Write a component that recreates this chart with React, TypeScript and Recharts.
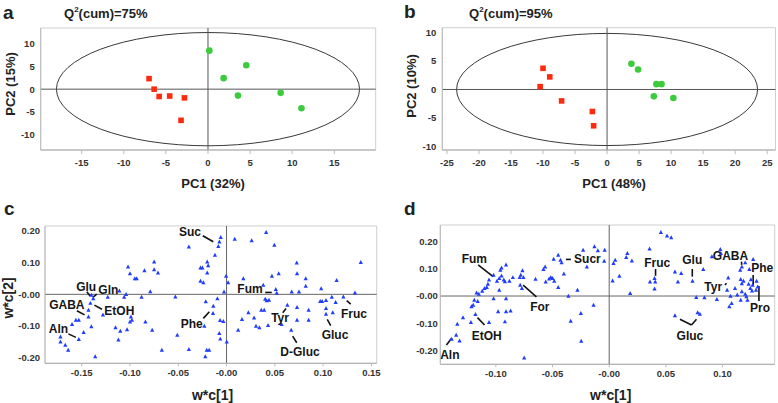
import React from 'react';
import { ScatterChart, Scatter, XAxis, YAxis, ReferenceLine, ReferenceArea } from 'recharts';

const FONT = '"Liberation Sans", Arial, sans-serif';

// ---------- Panel a (scores) ----------
const aRed = [
  { x: -7.0, y: 2.3 }, { x: -6.4, y: 0.0 }, { x: -5.8, y: -1.6 },
  { x: -4.55, y: -1.5 }, { x: -2.8, y: -1.9 }, { x: -3.2, y: -6.8 },
];
const aGreen = [
  { x: 0.16, y: 8.4 }, { x: 1.86, y: 2.4 }, { x: 4.55, y: 5.2 },
  { x: 3.56, y: -1.4 }, { x: 8.63, y: -0.8 }, { x: 11.1, y: -4.15 },
];
const aEllipse = { rx: 18.0, ry: 12.35 };
const aXTicks = [-15, -10, -5, 0, 5, 10, 15];
const aYTicks = [-10, -5, 0, 5, 10];

// ---------- Panel b (scores) ----------
const bRed = [
  { x: -10.0, y: 3.7 }, { x: -8.95, y: 2.2 }, { x: -10.45, y: 0.5 },
  { x: -7.1, y: -2.0 }, { x: -2.3, y: -3.85 }, { x: -2.1, y: -6.35 },
];
const bGreen = [
  { x: 3.8, y: 4.5 }, { x: 4.84, y: 3.5 }, { x: 7.7, y: 0.93 },
  { x: 8.5, y: 0.93 }, { x: 7.3, y: -1.2 }, { x: 10.35, y: -1.5 },
];
const bEllipse = { rx: 23.5, ry: 9.8 };
const bXTicks = [-25, -20, -15, -10, -5, 0, 5, 10, 15, 20, 25];
const bYTicks = [-10, -5, 0, 5, 10];

// ---------- Panel c (loadings) ----------
const cLoadings: [number, number][] = [
  [-0.172, -0.134], [-0.172, -0.150], [-0.167, -0.160], [-0.164, -0.176], [-0.160, -0.095],
  [-0.156, -0.081], [-0.153, -0.081], [-0.153, -0.142], [-0.148, -0.120], [-0.143, -0.050],
  [-0.143, -0.071], [-0.141, -0.028], [-0.140, -0.002], [-0.138, -0.013], [-0.140, -0.102],
  [-0.136, -0.197], [-0.128, -0.065], [-0.123, -0.009], [-0.111, 0.011], [-0.115, -0.105],
  [-0.112, -0.144], [-0.110, -0.116], [-0.106, -0.009], [-0.104, 0.000], [-0.102, 0.087],
  [-0.100, 0.066], [-0.099, -0.071], [-0.098, -0.081], [-0.100, -0.087], [-0.103, -0.111],
  [-0.095, 0.050], [-0.093, 0.050], [-0.088, -0.009], [-0.085, 0.075], [-0.084, -0.087],
  [-0.079, 0.009], [-0.077, -0.113], [-0.075, 0.103], [-0.075, 0.078], [-0.071, 0.068],
  [-0.067, -0.176], [-0.053, -0.008], [-0.051, -0.129], [-0.039, 0.150], [-0.039, -0.174],
  [-0.027, 0.084], [-0.025, 0.084], [-0.027, 0.042], [-0.024, 0.037], [-0.0215, -0.023],
  [-0.023, -0.100], [-0.022, -0.197], [-0.0205, -0.176], [-0.018, -0.176],
  [-0.020, 0.103], [-0.019, 0.091], [-0.020, 0.068], [-0.0137, -0.037], [-0.014, -0.060],
  [-0.0095, -0.013], [-0.0067, -0.082], [-0.0033, -0.085], [-0.0075, -0.123], [-0.0065, -0.141],
  [-0.012, 0.124], [-0.006, 0.180], [-0.0074, 0.166], [-0.0085, 0.152], [-0.0005, 0.058],
  [0.0016, 0.037], [-0.0026, 0.008], [0.0002, -0.150],
  [0.0085, 0.175], [0.026, 0.170], [0.041, 0.196], [0.0495, 0.156], [0.0174, 0.050],
  [0.038, 0.029], [0.047, 0.058], [0.054, 0.066], [0.051, 0.016], [0.052, 0.004],
  [0.0675, 0.008], [0.075, 0.008], [0.0727, 0.100], [0.073, 0.066], [0.082, 0.026],
  [0.082, 0.050], [0.098, 0.018], [0.114, 0.044], [0.139, 0.101], [0.133, 0.005],
  [0.121, -0.008], [0.109, -0.009], [0.113, -0.025], [0.103, -0.019], [0.097, -0.022],
  [0.099, -0.022], [0.103, -0.044], [0.110, -0.058], [0.103, -0.062], [0.085, -0.050],
  [0.085, -0.081], [0.073, -0.041], [0.073, -0.081], [0.063, -0.034], [0.067, -0.113],
  [0.040, -0.015], [0.0416, -0.020], [0.044, -0.018], [0.036, -0.050], [0.039, -0.050],
  [0.0226, -0.058], [0.0285, -0.074], [0.016, -0.079], [0.012, -0.113], [0.0305, -0.100],
  [0.034, -0.105], [0.043, -0.098], [0.057, -0.095],
];
const cLabels = [
  { t: 'Suc', x: -0.0378, y: 0.196 }, { t: 'Glu', x: -0.1454, y: 0.024 },
  { t: 'Gln', x: -0.1224, y: 0.0136 }, { t: 'GABA', x: -0.1654, y: -0.0338 },
  { t: 'EtOH', x: -0.111, y: -0.052 }, { t: 'Aln', x: -0.174, y: -0.110 },
  { t: 'Phe', x: -0.036, y: -0.094 }, { t: 'Fum', x: 0.0243, y: 0.017 },
  { t: 'Tyr', x: 0.0554, y: -0.076 }, { t: 'D-Gluc', x: 0.0761, y: -0.183 },
  { t: 'Gluc', x: 0.1123, y: -0.129 }, { t: 'Fruc', x: 0.132, y: -0.062 },
];
const cLeaders: [number, number, number, number][] = [
  [-0.0246, 0.185, -0.0137, 0.166], [-0.1447, 0.008, -0.1413, -0.005],
  [-0.1344, 0.001, -0.1385, -0.0095], [-0.155, -0.052, -0.147, -0.065],
  [-0.1369, -0.034, -0.129, -0.047], [-0.1638, -0.125, -0.156, -0.136],
  [-0.024, -0.076, -0.0178, -0.055], [0.040, 0.006, 0.0468, 0.006],
  [0.0582, -0.058, 0.0616, -0.045], [0.0685, -0.132, 0.0727, -0.153],
  [0.1043, -0.079, 0.1079, -0.099], [0.1244, -0.020, 0.1286, -0.031],
];
const cXTicks = [-0.15, -0.1, -0.05, 0, 0.05, 0.1, 0.15];
const cYTicks = [-0.2, -0.1, 0, 0.1, 0.2];

// ---------- Panel d (loadings) ----------
const dLoadings: [number, number][] = [
  [-0.139, -0.158], [-0.135, -0.143], [-0.134, -0.103], [-0.132, -0.164], [-0.129, -0.079],
  [-0.122, -0.096], [-0.1215, -0.039], [-0.120, -0.033], [-0.119, -0.015], [-0.118, -0.067],
  [-0.117, 0.012], [-0.115, 0.007], [-0.116, -0.019], [-0.112, 0.018], [-0.110, 0.028],
  [-0.108, 0.032], [-0.107, 0.044], [-0.106, -0.096], [-0.106, 0.059], [-0.102, 0.077],
  [-0.102, -0.009], [-0.099, 0.055], [-0.097, 0.065], [-0.096, 0.095], [-0.095, 0.103],
  [-0.095, 0.074], [-0.097, 0.022], [-0.098, -0.057], [-0.093, 0.059], [-0.092, 0.053],
  [-0.091, 0.114], [-0.091, -0.009], [-0.091, -0.057], [-0.092, -0.094], [-0.087, -0.054],
  [-0.088, 0.055], [-0.085, 0.068], [-0.079, 0.068], [-0.078, 0.077], [-0.0765, 0.093],
  [-0.0756, 0.068], [-0.0785, 0.040], [-0.077, 0.028], [-0.075, -0.226], [-0.065, 0.062],
  [-0.058, 0.098], [-0.0565, 0.107], [-0.056, 0.052], [-0.053, 0.063], [-0.0515, 0.068],
  [-0.050, 0.065], [-0.0485, 0.055], [-0.049, 0.135], [-0.045, 0.150], [-0.045, 0.032],
  [-0.043, 0.132], [-0.042, 0.122], [-0.040, 0.081], [-0.036, 0.000], [-0.034, -0.092],
  [-0.028, 0.022], [-0.025, -0.063], [-0.0247, -0.165], [-0.023, 0.168], [-0.0197, 0.107],
  [-0.0138, -0.033], [-0.013, 0.181], [-0.010, 0.166], [-0.004, 0.168], [-0.0044, 0.128],
  [0.0038, 0.120], [0.0053, 0.132], [0.003, 0.056], [0.009, 0.073], [0.015, 0.142],
  [0.016, 0.156], [0.020, 0.129], [0.0185, 0.010], [0.0356, 0.173], [0.036, 0.052],
  [0.0406, 0.052], [0.040, 0.065], [0.040, 0.026], [0.0456, 0.233], [0.051, 0.220],
  [0.0547, 0.214], [0.058, 0.089], [0.0606, 0.052], [0.0635, 0.083], [0.058, -0.072],
  [0.0735, 0.055], [0.0768, -0.005], [0.078, -0.061], [0.080, -0.066], [0.083, 0.098],
  [0.084, -0.006], [0.0906, 0.144], [0.095, -0.012], [0.098, 0.171], [0.0985, 0.156],
  [0.105, 0.067], [0.104, 0.022], [0.107, 0.000], [0.108, -0.027], [0.106, -0.039],
  [0.111, 0.028], [0.113, 0.004], [0.1156, 0.095], [0.117, 0.107], [0.116, 0.061],
  [0.117, 0.046], [0.1185, 0.055], [0.116, -0.015], [0.117, 0.016], [0.121, -0.002],
  [0.120, 0.007], [0.122, -0.015], [0.120, 0.122], [0.1236, 0.098], [0.123, 0.044],
  [0.1245, 0.028], [0.126, 0.019], [0.1265, 0.040], [0.127, 0.134], [0.125, 0.060],
  [0.130, 0.055], [0.131, 0.034], [0.1295, 0.022],
];
const dLabels = [
  { t: 'Fum', x: -0.119, y: 0.136 }, { t: 'For', x: -0.0612, y: -0.039 },
  { t: 'EtOH', x: -0.108, y: -0.145 }, { t: 'Aln', x: -0.1406, y: -0.216 },
  { t: 'Sucr', x: -0.0192, y: 0.1355 }, { t: 'Fruc', x: 0.0424, y: 0.122 },
  { t: 'Glu', x: 0.0733, y: 0.132 }, { t: 'GABA', x: 0.107, y: 0.1465 },
  { t: 'Phe', x: 0.135, y: 0.104 }, { t: 'Tyr', x: 0.0918, y: 0.034 },
  { t: 'Pro', x: 0.133, y: -0.045 }, { t: 'Gluc', x: 0.0712, y: -0.145 },
];
const dLeaders: [number, number, number, number][] = [
  [-0.1156, 0.114, -0.1024, 0.071], [-0.0759, 0.040, -0.0642, -0.003],
  [-0.1162, -0.079, -0.110, -0.106], [-0.1436, -0.179, -0.139, -0.155],
  [-0.0382, 0.134, -0.0338, 0.134], [0.0409, 0.099, 0.0409, 0.074],
  [0.0733, 0.099, 0.0733, 0.071], [0.1168, 0.126, 0.1168, 0.114],
  [0.127, 0.077, 0.127, 0.040], [0.1021, 0.040, 0.1035, 0.0465],
  [0.1321, 0.037, 0.1321, -0.018], [0.0624, -0.085, 0.0726, -0.106],
  [0.0726, -0.106, 0.077, -0.085],
];
const dXTicks = [-0.1, -0.05, 0, 0.05, 0.1];
const dYTicks = [-0.2, -0.1, 0, 0.1, 0.2];

// ---------- shapes ----------
const Square = (p: any) => {
  const s = 5.6;
  return <rect x={p.cx - s / 2} y={p.cy - s / 2} width={s} height={s} fill="#ff2a0e" />;
};
const Dot = (p: any) => <circle cx={p.cx} cy={p.cy} r={3.3} fill="#3ccb3c" />;
const Tri = (p: any) => {
  const s = 2.1;
  return (
    <polygon
      points={`${p.cx},${p.cy - s * 1.1} ${p.cx - s},${p.cy + s * 0.8} ${p.cx + s},${p.cy + s * 0.8}`}
      fill="#1f3cff"
    />
  );
};
const LabelText = (p: any) => (
  <text x={p.cx} y={p.cy} textAnchor="middle" dominantBaseline="central"
    fontSize={12} fontWeight="bold" fill="#151515" fontFamily={FONT}>
    {p.payload.t}
  </text>
);
const EllipseShape = (p: any) => (
  <ellipse cx={p.x + p.width / 2} cy={p.y + p.height / 2}
    rx={Math.abs(p.width) / 2} ry={Math.abs(p.height) / 2}
    fill="none" stroke="#3a3a3a" strokeWidth={1} />
);

const tickStyle = { fontSize: 9.5, fontWeight: 'bold', fill: '#333', fontFamily: FONT } as any;
const fmt2 = (v: number) => (Math.abs(v) < 1e-9 ? '-0.00' : v.toFixed(2));

const abs = (l: number, t: number): React.CSSProperties => ({ position: 'absolute', left: l, top: t });

const Txt = ({ x, y, size, children, rotate, anchor }: any) => (
  <div style={{
    position: 'absolute', left: x, top: y, fontFamily: FONT, fontWeight: 'bold', fontSize: size,
    color: '#222', whiteSpace: 'nowrap', lineHeight: 1,
    transform: `translate(${anchor === 'start' ? '0' : '-50%'}, -50%)${rotate ? ' rotate(-90deg)' : ''}`,
  }}>{children}</div>
);

function ScorePanel(props: any) {
  const { left, width, margin, yWidth, xDomain, yDomain, xTicks, yTicks, red, green, ell } = props;
  return (
    <div style={abs(left, 0)}>
      <ScatterChart width={width} height={200} margin={margin}>
        <XAxis type="number" dataKey="x" domain={xDomain} ticks={xTicks} allowDataOverflow
          height={25} tick={tickStyle} tickSize={4} tickMargin={5}
          axisLine={{ stroke: '#aaa' }} tickLine={{ stroke: '#bbb' }} />
        <YAxis type="number" dataKey="y" domain={yDomain} ticks={yTicks} allowDataOverflow
          width={yWidth} tick={tickStyle} tickSize={3} tickMargin={3}
          axisLine={{ stroke: '#bbb' }} tickLine={false} />
        <ReferenceArea x1={xDomain[0]} x2={xDomain[1]} y1={yDomain[0]} y2={yDomain[1]}
          fill="none" stroke="#cfcfcf" strokeWidth={1} ifOverflow="visible" />
        <ReferenceLine x={0} stroke="#555" strokeWidth={1} />
        <ReferenceLine y={0} stroke="#555" strokeWidth={1} />
        <ReferenceArea x1={-ell.rx} x2={ell.rx} y1={-ell.ry} y2={ell.ry} shape={EllipseShape} ifOverflow="visible" />
        <Scatter data={red} shape={Square} isAnimationActive={false} />
        <Scatter data={green} shape={Dot} isAnimationActive={false} />
      </ScatterChart>
    </div>
  );
}

function LoadPanel(props: any) {
  const { left, margin, yWidth, xDomain, yDomain, xTicks, yTicks, pts, labels, leaders } = props;
  const data = pts.map(([x, y]: [number, number]) => ({ x, y }));
  return (
    <div style={abs(left, 195)}>
      <ScatterChart width={390} height={208} margin={margin}>
        <XAxis type="number" dataKey="x" domain={xDomain} ticks={xTicks} allowDataOverflow
          height={22} tick={tickStyle} tickSize={3} tickMargin={3} tickFormatter={fmt2}
          axisLine={{ stroke: '#aaa' }} tickLine={{ stroke: '#bbb' }} />
        <YAxis type="number" dataKey="y" domain={yDomain} ticks={yTicks} allowDataOverflow
          width={yWidth} tick={tickStyle} tickSize={2} tickMargin={props.yGap} tickFormatter={fmt2}
          axisLine={{ stroke: '#bbb' }} tickLine={false} />
        <ReferenceArea x1={xDomain[0]} x2={xDomain[1]} y1={yDomain[0]} y2={yDomain[1]}
          fill="none" stroke="#cfcfcf" strokeWidth={1} ifOverflow="visible" />
        <ReferenceLine x={0} stroke="#666" strokeWidth={1} />
        <ReferenceLine y={0} stroke="#666" strokeWidth={1} />
        {leaders.map((s: number[], i: number) => (
          <ReferenceLine key={i} segment={[{ x: s[0], y: s[1] }, { x: s[2], y: s[3] }]}
            stroke="#111" strokeWidth={1.6} ifOverflow="visible" />
        ))}
        <Scatter data={data} shape={Tri} isAnimationActive={false} />
        <Scatter data={labels} shape={LabelText} isAnimationActive={false} />
      </ScatterChart>
    </div>
  );
}

export default function App() {
  return (
    <div style={{ position: 'absolute', left: 0, top: 0, width: 778, height: 403, background: '#fff', overflow: 'hidden' }}>
      <ScorePanel left={0} width={390} margin={{ top: 28, right: 14.3, bottom: 25, left: 10.7 }} yWidth={30}
        xDomain={[-19.87, 19.92]} yDomain={[-13.27, 13.34]} xTicks={aXTicks} yTicks={aYTicks}
        red={aRed} green={aGreen} ell={aEllipse} />
      <ScorePanel left={388} width={390} margin={{ top: 27.7, right: 2.5, bottom: 25, left: 24.3 }} yWidth={30}
        xDomain={[-25.73, 26.3]} yDomain={[-10.58, 10.8]} xTicks={bXTicks} yTicks={bYTicks}
        red={bRed} green={bGreen} ell={bEllipse} />
      <LoadPanel left={0} margin={{ top: 31, right: 13.3, bottom: 17.7, left: 7 }} yWidth={38} yGap={3}
        xDomain={[-0.188, 0.1555]} yDomain={[-0.218, 0.216]} xTicks={cXTicks} yTicks={cYTicks}
        pts={cLoadings} labels={cLabels} leaders={cLeaders} />
      <LoadPanel left={388} margin={{ top: 30, right: 3.3, bottom: 16.7, left: 12.3 }} yWidth={40} yGap={0.5}
        xDomain={[-0.149, 0.146]} yDomain={[-0.25, 0.26]} xTicks={dXTicks} yTicks={dYTicks}
        pts={dLoadings} labels={dLabels} leaders={dLeaders} />

      <Txt x={3} y={12} size={19} anchor="start">a</Txt>
      <Txt x={64} y={13} size={13} anchor="start">Q<sup style={{ fontSize: 8 }}>2</sup>(cum)=75%</Txt>
      <Txt x={10} y={84} size={13} rotate>PC2 (15%)</Txt>
      <Txt x={213} y={183} size={13}>PC1 (32%)</Txt>

      <Txt x={404} y={11} size={19} anchor="start">b</Txt>
      <Txt x={469} y={13} size={13} anchor="start">Q<sup style={{ fontSize: 8 }}>2</sup>(cum)=95%</Txt>
      <Txt x={411} y={86} size={13} rotate>PC2 (10%)</Txt>
      <Txt x={614} y={183} size={13}>PC1 (48%)</Txt>

      <Txt x={4} y={208} size={19} anchor="start">c</Txt>
      <Txt x={8} y={298} size={14} rotate>w*c[2]</Txt>
      <Txt x={212.5} y={395} size={14}>w*c[1]</Txt>

      <Txt x={404} y={208} size={19} anchor="start">d</Txt>
      <Txt x={610.7} y={395} size={14}>w*c[1]</Txt>
    </div>
  );
}
